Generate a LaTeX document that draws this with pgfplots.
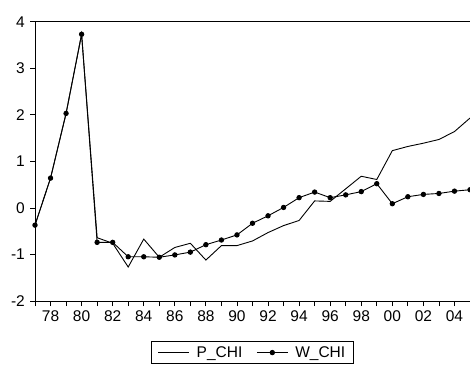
\documentclass[border=0pt]{standalone}
\usepackage{fontspec}
\setmainfont{Liberation Sans}
\usepackage{pgfplots}
\pgfplotsset{compat=1.18}
\begin{document}
\begin{tikzpicture}
\useasboundingbox (-35pt,-66pt) rectangle (435pt,301pt);
\begin{axis}[
  at={(0,0)}, anchor=south west,
  scale only axis, width=435pt, height=279.3pt,
  xmin=1977, xmax=2005, ymin=-2, ymax=4,
  axis x line*=bottom, axis y line*=left,
  axis line style={line width=1pt},
  xtick={1978,1980,...,2004},
  xticklabels={78,80,82,84,86,88,90,92,94,96,98,00,02,04},
  minor xtick={1977,1979,...,2005},
  ytick={-2,-1,0,1,2,3,4},
  yticklabels={-2,-1,0,1,2,3,4},
  tick align=outside, major tick length=5pt, minor tick length=5pt,
  tick style={black, line width=0.8pt},
  every minor tick/.style={black, line width=0.8pt},
  tick label style={font=\fontsize{15.5}{17}\selectfont},
  xticklabel style={inner sep=0pt, yshift=-4pt},
  yticklabel style={inner sep=0pt, xshift=-5pt},
  legend style={at={(0.5,0)}, anchor=north, yshift=-40pt, legend columns=2,
    draw=black, line width=0.8pt, font=\fontsize{15.5}{17}\selectfont,
    inner xsep=6pt, inner ysep=3pt,
    /tikz/every odd column/.append style={column sep=5pt},
    /tikz/every even column/.append style={column sep=12pt}},
  legend image code/.code={\draw[mark repeat=2,mark phase=2,#1] plot coordinates {(0pt,0pt) (15.5pt,0pt) (31pt,0pt)};},
]
\addplot[black, line width=0.9pt, mark=none] coordinates {
(1977,-0.37) (1978,0.64) (1979,2.03) (1980,3.73) (1981,-0.64) (1982,-0.76)
(1983,-1.27) (1984,-0.67) (1985,-1.06) (1986,-0.85) (1987,-0.76) (1988,-1.12)
(1989,-0.81) (1990,-0.81) (1991,-0.71) (1992,-0.53) (1993,-0.38) (1994,-0.27)
(1995,0.15) (1996,0.14) (1997,0.41) (1998,0.68) (1999,0.61) (2000,1.23)
(2001,1.32) (2002,1.39) (2003,1.47) (2004,1.64) (2005,1.93)};
\addlegendentry{P\_CHI}
\addplot[black, line width=0.9pt, mark=*, mark size=2.2pt] coordinates {
(1977,-0.37) (1978,0.64) (1979,2.03) (1980,3.73) (1981,-0.74) (1982,-0.74)
(1983,-1.05) (1984,-1.05) (1985,-1.06) (1986,-1.01) (1987,-0.95) (1988,-0.79)
(1989,-0.69) (1990,-0.58) (1991,-0.33) (1992,-0.17) (1993,0.01) (1994,0.22)
(1995,0.34) (1996,0.22) (1997,0.28) (1998,0.35) (1999,0.52) (2000,0.09)
(2001,0.24) (2002,0.29) (2003,0.31) (2004,0.36) (2005,0.39)};
\addlegendentry{W\_CHI}
\draw[line width=1pt] (rel axis cs:0,1) -- (rel axis cs:1,1);
\end{axis}
\end{tikzpicture}
\end{document}
